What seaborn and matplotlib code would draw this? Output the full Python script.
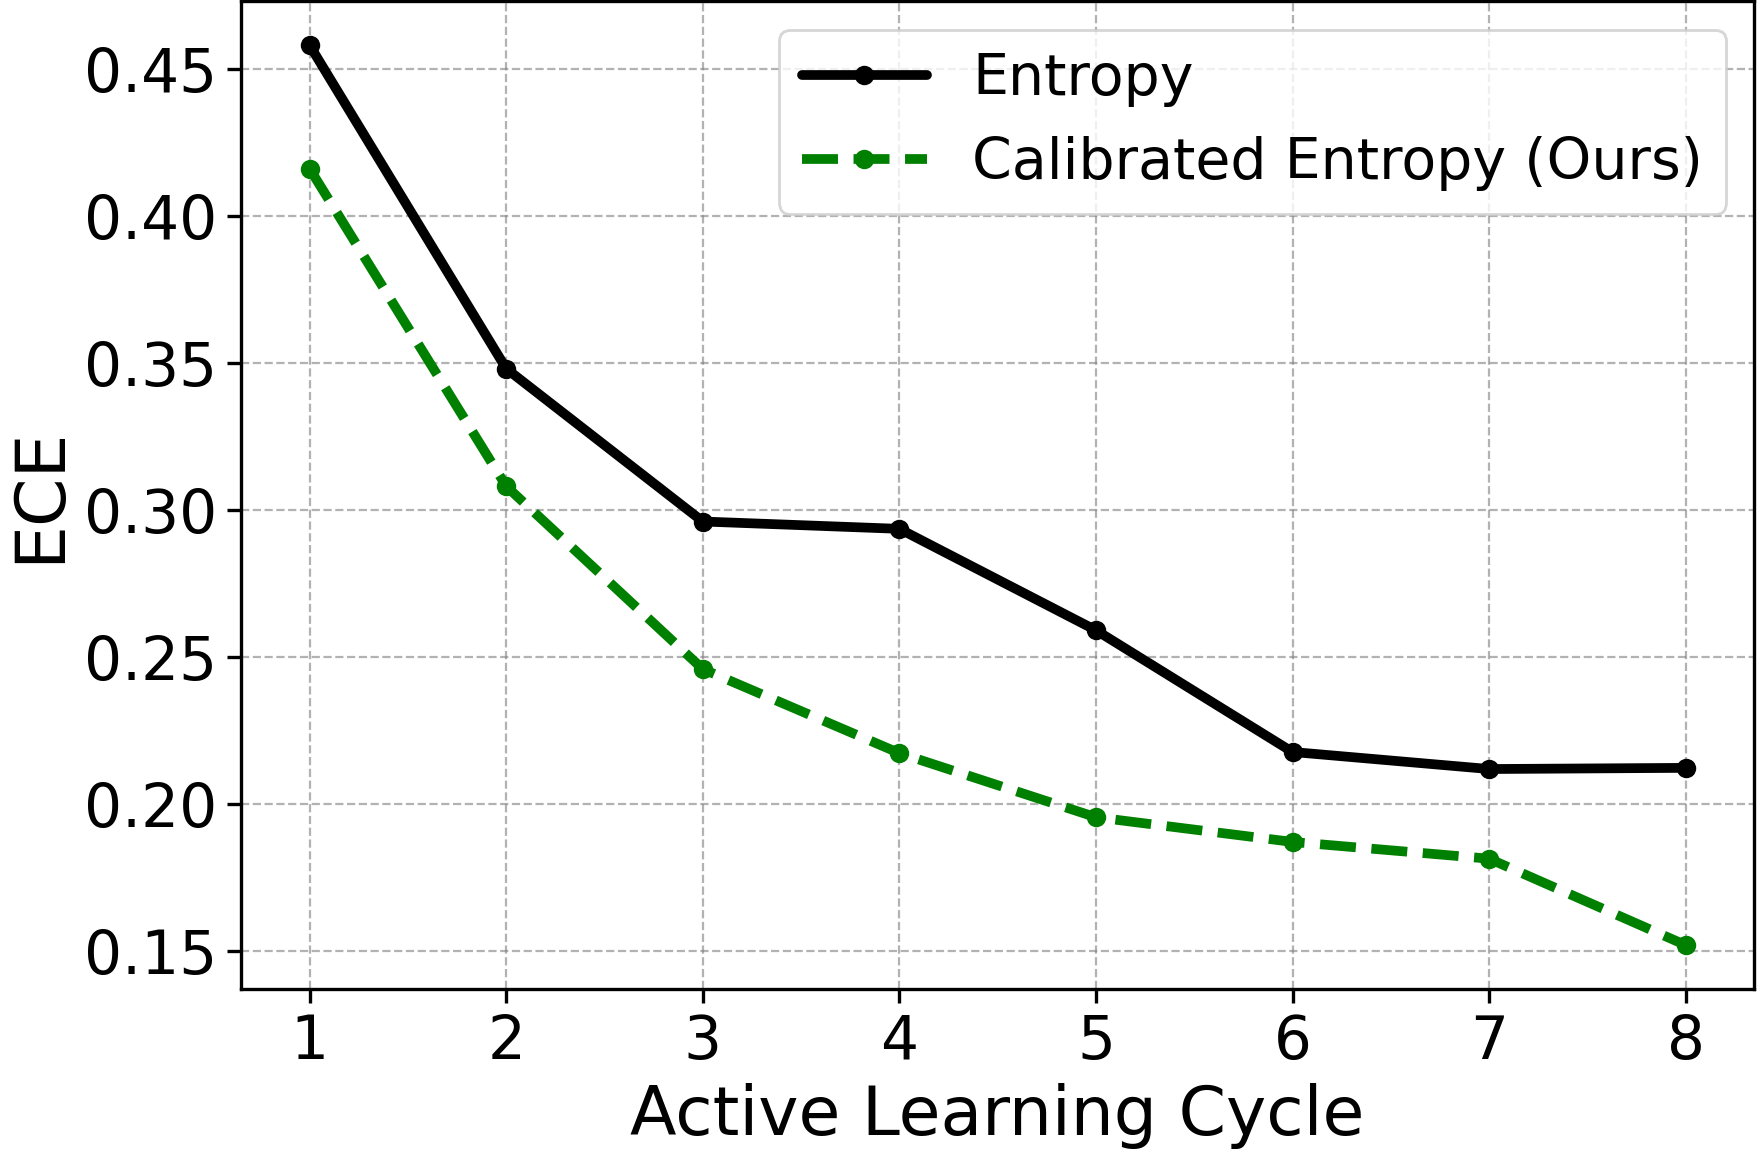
import matplotlib
matplotlib.use("Agg")
import matplotlib.pyplot as plt
import seaborn as sns
import pandas as pd

cycles = [1, 2, 3, 4, 5, 6, 7, 8]
entropy = [0.458, 0.348, 0.296, 0.2935, 0.259, 0.2176, 0.2118, 0.2122]
calibrated = [0.416, 0.308, 0.2458, 0.2172, 0.1954, 0.187, 0.1813, 0.1519]

sns.set_style("ticks")
plt.rcParams['font.family'] = ['DejaVu Sans']
plt.rcParams.update({"text.color": "black", "axes.labelcolor": "black",
                     "xtick.color": "black", "ytick.color": "black",
                     "axes.edgecolor": "black"})

fig, ax = plt.subplots(figsize=(8.79, 5.79), dpi=200)
fig.subplots_adjust(left=0.137, right=0.998, top=0.999, bottom=0.146)

df1 = pd.DataFrame({"cycle": cycles, "ece": entropy})
df2 = pd.DataFrame({"cycle": cycles, "ece": calibrated})
sns.lineplot(data=df1, x="cycle", y="ece", ax=ax, color="black", lw=3.5,
             marker="o", markersize=7, markeredgewidth=0, label="Entropy")
sns.lineplot(data=df2, x="cycle", y="ece", ax=ax, color="green", lw=3.5,
             linestyle="--", marker="o", markersize=7, markeredgewidth=0,
             label="Calibrated Entropy (Ours)")

ax.set_xticks(cycles)
yt = [0.15, 0.20, 0.25, 0.30, 0.35, 0.40, 0.45]
ax.set_yticks(yt)
ax.set_yticklabels([f"{v:.2f}" for v in yt])
ax.set_xlim(0.65, 8.35)
ax.set_ylim(0.137, 0.473)
ax.tick_params(labelsize=21.5, width=1.2, length=5)
ax.set_xlabel("Active Learning Cycle", fontsize=24.5)
ax.set_ylabel("ECE", fontsize=25)
ax.grid(True, linestyle="--", color="gray", alpha=0.6, lw=0.8)
for s in ax.spines.values():
    s.set_linewidth(1.2)
ax.legend(fontsize=20.5, loc="upper right", handlelength=2.2, framealpha=0.8)

fig.savefig("out.png", dpi=200)
